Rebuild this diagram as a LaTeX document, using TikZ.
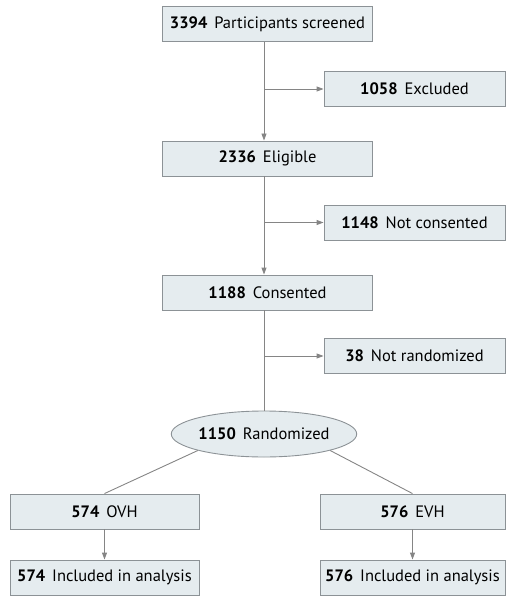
\documentclass[tikz,border=0pt]{standalone}
\usepackage{fontspec}
\setmainfont{PT Sans}
\usetikzlibrary{arrows.meta,shapes.geometric}
\definecolor{boxfill}{HTML}{E5ECEF}
\definecolor{boxline}{HTML}{8C9296}
\definecolor{conn}{HTML}{858585}
\newcommand{\gapnum}{\hspace{0.42em}}
\tikzset{
  flowbox/.style={draw=boxline, fill=boxfill, line width=0.9pt, minimum height=35pt, inner sep=0pt, font=\fontsize{16.5}{19}\selectfont},
  sidebox/.style={flowbox, minimum width=181pt},
  mainbox/.style={flowbox, minimum width=210pt},
  armbox/.style={flowbox},
  connector/.style={draw=conn, line width=0.9pt},
  arrowline/.style={connector, -{Triangle[length=7pt,width=5pt]}}
}
\begin{document}
\begin{tikzpicture}[x=1pt,y=-1pt]
\useasboundingbox (0,0) rectangle (507,596);
\node[mainbox] (scr) at (267.5,24) {\textbf{3394}\gapnum Participants screened};
\node[sidebox] (exc) at (414.5,89) {\textbf{1058}\gapnum Excluded};
\node[mainbox] (eli) at (267.5,158.5) {\textbf{2336}\gapnum Eligible};
\node[sidebox] (ncon) at (414.5,222.5) {\textbf{1148}\gapnum Not consented};
\node[mainbox] (con) at (267.5,292.5) {\textbf{1188}\gapnum Consented};
\node[sidebox] (nran) at (414.5,356) {\textbf{38}\gapnum Not randomized};
\node[draw=boxline, fill=boxfill, line width=0.9pt, ellipse, minimum width=174pt, minimum height=46pt, inner sep=0pt, font=\fontsize{16.5}{19}\selectfont] (rand) at (264,434) {\textbf{1150}\gapnum Randomized};
\node[armbox, minimum width=189pt] (ovh) at (104.5,511.5) {\textbf{574}\gapnum OVH};
\node[armbox, minimum width=185pt] (evh) at (412.5,511.5) {\textbf{576}\gapnum EVH};
\node[armbox, minimum width=189pt] (inl) at (104.5,577.5) {\textbf{574}\gapnum Included in analysis};
\node[armbox, minimum width=185pt] (inr) at (412.5,577.5) {\textbf{576}\gapnum Included in analysis};
\coordinate (j1) at (264,89);
\coordinate (j2) at (264,222.5);
\coordinate (j3) at (264,356);
\draw[arrowline] (scr.south -| j1) -- (eli.north -| j1);
\draw[arrowline] (j1) -- (exc.west);
\draw[arrowline] (eli.south -| j2) -- (con.north -| j2);
\draw[arrowline] (j2) -- (ncon.west);
\draw[connector] (con.south -| rand.north) -- (rand.north);
\draw[arrowline] (j3) -- (nran.west);
\draw[connector] (rand.194) -- (ovh.north);
\draw[connector] (rand.-14) -- (evh.north);
\draw[arrowline] (ovh.south) -- (inl.north);
\draw[arrowline] (evh.south) -- (inr.north);
\end{tikzpicture}
\end{document}
